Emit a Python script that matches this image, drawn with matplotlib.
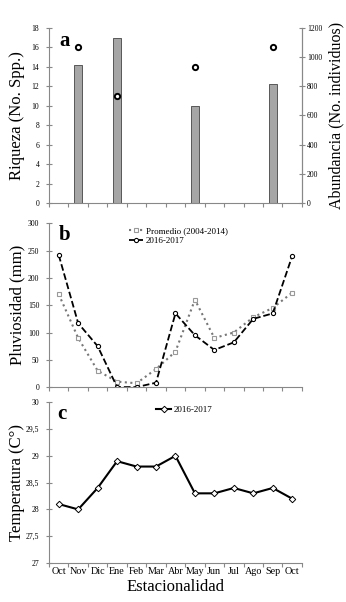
import numpy as np
import matplotlib
matplotlib.use("Agg")
import matplotlib.pyplot as plt
from matplotlib.ticker import FuncFormatter

plt.rcParams["font.family"] = ["Liberation Serif", "DejaVu Serif"]

months = ["Oct", "Nov", "Dic", "Ene", "Feb", "Mar", "Abr", "May", "Jun",
          "Jul", "Ago", "Sep", "Oct"]

# panel a: sampled months only
samp_idx = [1, 3, 7, 11]
riqueza = [14.2, 17, 10, 12.2]
abundancia = [1067, 733, 933, 1067]

# panel b
promedio = [170, 90, 30, 10, 7, 33, 65, 160, 90, 100, 128, 145, 173]
lluvia_1617 = [242, 117, 75, 0, 0, 8, 135, 95, 68, 82, 125, 135, 240]

# panel c
temp_1617 = [28.1, 28.0, 28.4, 28.9, 28.8, 28.8, 29.0, 28.3, 28.3, 28.4,
             28.3, 28.4, 28.2]

x = np.arange(len(months))
spine_col = "#888888"
tick_fs = 5.5
lab_fs = 12


def style(ax, right=False):
    for s in ["top"] + ([] if right else ["right"]):
        ax.spines[s].set_visible(False)
    for s in ["left", "bottom", "right"]:
        ax.spines[s].set_color(spine_col)
        ax.spines[s].set_linewidth(0.8)
    ax.set_xlim(-0.5, len(months) - 0.5)
    ax.set_xticks(np.arange(-0.5, len(months), 1.0))
    ax.set_xticklabels([])
    ax.tick_params(axis="x", direction="out", length=3, color=spine_col)
    ax.tick_params(axis="y", direction="inout", length=4, color=spine_col,
                   labelsize=tick_fs, pad=5)


fig = plt.figure(figsize=(3.46, 6.02), dpi=100)
axa = fig.add_axes([0.1416, 0.6628, 0.731, 0.2907])
axb = fig.add_axes([0.1416, 0.357, 0.731, 0.272])
axc = fig.add_axes([0.1416, 0.0648, 0.731, 0.267])

# ---- a
style(axa, right=True)
axa.bar(x[samp_idx], riqueza, width=0.42, color="#a6a6a6",
        edgecolor="#444444", linewidth=0.6, zorder=2)
axa.set_ylim(0, 18)
axa.set_yticks(np.arange(0, 19, 2))
axa.set_ylabel("Riqueza (No. Spp.)", fontsize=lab_fs)
axr = axa.twinx()
axr.plot(x[samp_idx], abundancia, "o", ms=3.8, mfc="white", mec="black",
         mew=1.4, ls="none", zorder=3)
axr.set_ylim(0, 1200)
axr.set_yticks(np.arange(0, 1201, 200))
for s in ["top", "left", "bottom"]:
    axr.spines[s].set_visible(False)
axr.spines["right"].set_color(spine_col)
axr.tick_params(axis="y", direction="inout", length=4, color=spine_col,
                labelsize=tick_fs, pad=1.5)
axr.set_ylabel("Abundancia (No. individuos)", fontsize=11.5)
axa.text(0.06, 0.98, "a", transform=axa.transAxes, fontsize=15,
         fontweight="bold", va="top", ha="center")

# ---- b
style(axb)
axb.plot(x, promedio, ls=":", lw=1.5, color="#777777", marker="s", ms=3.5,
         mfc="white", mec="#999999", mew=0.8,
         label="Promedio (2004-2014)")
axb.plot(x, lluvia_1617, ls="--", lw=1.3, color="black", marker="o", ms=3,
         mfc="white", mec="black", mew=0.8, label="2016-2017")
axb.set_ylim(0, 300)
axb.set_yticks(np.arange(0, 301, 50))
axb.set_ylabel("Pluviosidad (mm)", fontsize=lab_fs)
axb.legend(loc="upper left", bbox_to_anchor=(0.29, 1.02), frameon=False,
           fontsize=6.5, handlelength=1.6, handletextpad=0.3,
           borderpad=0.2, labelspacing=0.2)
axb.text(0.06, 0.99, "b", transform=axb.transAxes, fontsize=15,
         fontweight="bold", va="top", ha="center")

# ---- c
style(axc)
axc.plot(x, temp_1617, "-", lw=1.5, color="black", marker="D", ms=3.3,
         mfc="white", mec="black", mew=0.7, label="2016-2017")
axc.set_ylim(27, 30)
axc.set_yticks(np.arange(27, 30.01, 0.5))
axc.yaxis.set_major_formatter(
    FuncFormatter(lambda v, p: f"{v:g}".replace(".", ",")))
axc.set_xticks(x, minor=True)
axc.set_xticklabels(months, minor=True, fontsize=7.3)
axc.tick_params(axis="x", which="minor", length=0, pad=3)
axc.set_ylabel("Temperatura (C°)", fontsize=lab_fs)
axc.set_xlabel("Estacionalidad", fontsize=lab_fs, labelpad=2)
axc.legend(loc="upper left", bbox_to_anchor=(0.4, 1.02), frameon=False,
           fontsize=6.5, handlelength=1.6, handletextpad=0.3, borderpad=0.2)
axc.text(0.05, 0.99, "c", transform=axc.transAxes, fontsize=15,
         fontweight="bold", va="top", ha="center")

for ax in (axa, axb, axc):
    ax.yaxis.set_label_coords(-0.095, 0.5)
axr.yaxis.set_label_coords(1.105, 0.5)

fig.savefig("out.png", dpi=100)
